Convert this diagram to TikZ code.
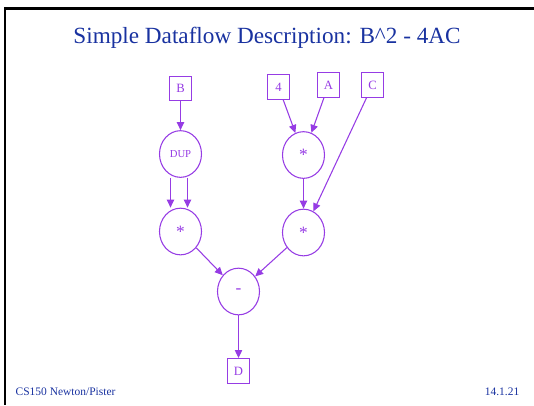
\documentclass[tikz,border=0pt]{standalone}
\usepackage{fontspec}
\setmainfont{Liberation Serif}
\usetikzlibrary{shapes.geometric, arrows.meta, positioning}
\definecolor{flowpurple}{RGB}{150,60,228}
\definecolor{slideblue}{RGB}{25,50,160}

\begin{document}
\begin{tikzpicture}[x=0.75pt,y=-0.75pt,
  src/.style={rectangle,draw=flowpurple,text=flowpurple,line width=0.8pt,minimum width=16.5pt,minimum height=18.5pt,inner sep=1pt,font=\fontsize{9.5}{11}\selectfont},
  op/.style={ellipse,draw=flowpurple,text=flowpurple,line width=0.8pt,minimum width=31.5pt,minimum height=35pt,inner sep=0pt,font=\fontsize{13}{14}\selectfont},
  arr/.style={-{Triangle[length=6pt,width=5.5pt]},draw=flowpurple,line width=0.8pt}
]
  \useasboundingbox (0,0) rectangle (534,405);
  % slide frame
  \draw[line width=2.2pt] (534,8.5) -- (5,8.5) -- (5,405);
  \node[text=slideblue,font=\fontsize{17.4}{20}\selectfont](title) at (267,38) {Simple Dataflow Description: B\^{}2 - 4AC};

  \node[src](bin) at (180.5,88.5) {B};
  \node[src](four) at (278.5,87) {4};
  \node[src](ain) at (328.5,85) {A};
  \node[src](cin) at (372.5,85) {C};
  \node[op,font=\fontsize{8}{9}\selectfont](dup) at (180.5,154) {DUP};
  \node[op](mula) at (303.5,155) {\raisebox{-0.3em}{*}};
  \node[op](mulb) at (180.5,231.5) {\raisebox{-0.3em}{*}};
  \node[op](mulr) at (303.5,232.5) {\raisebox{-0.3em}{*}};
  \node[op](minus) at (238.5,291.5) {-};
  \node[src,below=32pt of minus](dout) {D};

  \foreach \x/\y in {bin/dup,four/mula,ain/mula,mula/mulr,cin/mulr,mulb/minus,mulr/minus,minus/dout}{\draw[arr](\x)--(\y);}
  \draw[arr] ([xshift=-7.5pt]dup.south) -- ([xshift=-7.5pt]mulb.north);
  \draw[arr] ([xshift=5.25pt]dup.south) -- ([xshift=5.25pt]mulb.north);

  \node[text=slideblue,font=\fontsize{8.6}{10}\selectfont,anchor=west](course) at (11,392) {CS150 Newton/Pister};
  \node[text=slideblue,font=\fontsize{8.6}{10}\selectfont,anchor=east](pageno) at (524,392) {14.1.21};
\end{tikzpicture}
\end{document}
